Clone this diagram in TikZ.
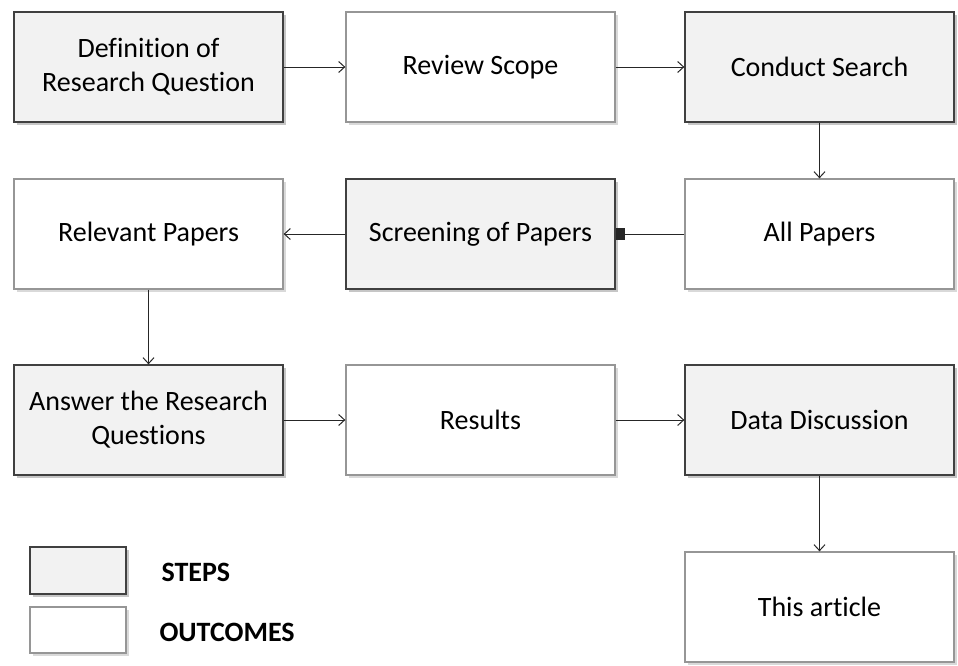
\documentclass[tikz,border=0pt]{standalone}
\usepackage{fontspec}
\setmainfont{Carlito}[Ligatures=NoCommon]
\usetikzlibrary{arrows.meta, positioning, shadows}
\definecolor{stepfill}{RGB}{242,242,242}
\definecolor{stepline}{RGB}{64,64,64}
\definecolor{outline}{RGB}{150,150,150}
\tikzset{
  stepbox/.style = {draw=stepline, line width=1.3pt, fill=stepfill,
                    minimum width=269pt, minimum height=110pt, align=center,
                    font=\fontsize{28}{34}\selectfont,
                    drop shadow={shadow xshift=3pt, shadow yshift=-3pt, opacity=0.45}},
  outbox/.style  = {draw=outline, line width=1.3pt, fill=white,
                    minimum width=269pt, minimum height=110pt, align=center,
                    font=\fontsize{28}{34}\selectfont,
                    drop shadow={shadow xshift=3pt, shadow yshift=-3pt, opacity=0.3}},
  arrow/.style   = {-{Straight Barb[length=6pt, width=11pt]}, line width=1pt, color=black!85},
  legend/.style  = {anchor=west, font=\fontsize{28}{34}\selectfont\bfseries},
}
\begin{document}
\begin{tikzpicture}[x=1pt, y=-1pt]
  \useasboundingbox (0,0) rectangle (958,665);
  % first row
  \node[stepbox] (defq)    at (148.5, 67) {Definition of\\Research Question};
  \node[outbox]  (scope)   at (480.5, 67) {Review Scope};
  \node[stepbox] (search)  at (819.5, 67) {Conduct Search};
  % second row
  \node[outbox]  (relev)   at (148.5, 234) {Relevant Papers};
  \node[stepbox] (screen)  at (480.5, 234) {Screening of Papers};
  \node[outbox]  (allp)    at (819.5, 234) {All Papers};
  % third row
  \node[stepbox] (answer)  at (148.5, 420) {Answer the Research\\Questions};
  \node[outbox]  (results) at (480.5, 420) {Results};
  \node[stepbox] (discuss) at (819.5, 420) {Data Discussion};
  \node[outbox]  (article) at (819.5, 607) {This article};
  % legend
  \node[stepbox, minimum width=96pt, minimum height=47pt] (lstep) at (78, 570.5) {};
  \node[outbox, minimum width=96pt, minimum height=46pt]  (lout)  at (78, 630) {};
  \node[legend] (lsteptxt) at (158, 572) {STEPS};
  \node[legend] (louttxt)  at (156, 632) {OUTCOMES};
  % connectors
  \draw[arrow] (defq) -- (scope);
  \draw[arrow] (scope) -- (search);
  \draw[arrow] (search) -- (allp);
  \draw[-{Rectangle[length=9pt, width=12pt]}, line width=1pt, color=black!85] (allp) -- (screen);
  \draw[arrow] (screen) -- (relev);
  \draw[arrow] (relev) -- (answer);
  \draw[arrow] (answer) -- (results);
  \draw[arrow] (results) -- (discuss);
  \draw[arrow] (discuss) -- (article);
\end{tikzpicture}
\end{document}
